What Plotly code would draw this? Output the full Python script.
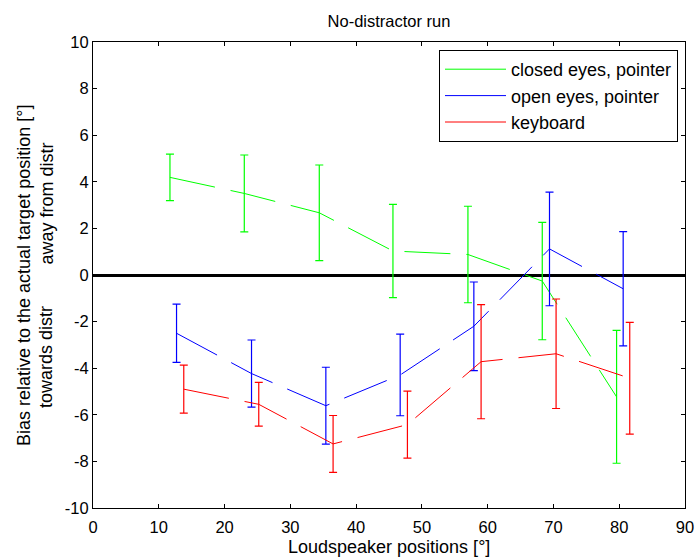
import plotly.graph_objects as go

# Data
closed_x = [11.7, 23.0, 34.4, 45.6, 57.0, 68.3, 79.6]
closed_y = [4.19, 3.50, 2.67, 1.03, 0.88, -0.26, -5.23]
closed_err = [1.00, 1.65, 2.05, 2.00, 2.07, 2.52, 2.85]

open_x = [12.7, 24.1, 35.4, 46.7, 57.9, 69.4, 80.6]
open_y = [-2.50, -4.23, -5.61, -4.29, -2.20, 1.12, -0.59]
open_err = [1.25, 1.44, 1.65, 1.75, 1.90, 2.44, 2.45]

key_x = [13.8, 25.2, 36.5, 47.8, 59.0, 70.4, 81.6]
key_y = [-4.90, -5.55, -7.25, -6.42, -3.72, -3.38, -4.43]
key_err = [1.03, 0.94, 1.22, 1.44, 2.45, 2.35, 2.40]

series = [
    ("closed eyes, pointer", closed_x, closed_y, closed_err, "#00FF00"),
    ("open eyes, pointer", open_x, open_y, open_err, "#0000FF"),
    ("keyboard", key_x, key_y, key_err, "#FF0000"),
]

x_ticks = list(range(0, 91, 10))
x_ticklabels = [str(v) for v in x_ticks]
y_ticks = list(range(-10, 11, 2))
y_ticklabels = [str(v) for v in y_ticks]  # plain hyphen minus as in the reference

font_family = "Liberation Sans, Arial, sans-serif"
fs_tick = 16.5
fs_label = 18
fs_title = 16.5

# plot area in pixels
L, R, T, B = 93, 685, 42, 508
W, H = 698, 558
PW, PH = R - L, B - T


def px_x(p):
    return (p - L) / PW


def px_y(p):
    return 1 - (p - T) / PH


fig = go.Figure()
for name, xs, ys, es, col in series:
    fig.add_trace(go.Scatter(
        x=xs, y=ys, mode="lines", showlegend=False,
        line=dict(color=col, width=1, dash="46px,16px"),
        error_y=dict(type="data", array=es, visible=True, color=col,
                     thickness=1.2, width=4),
    ))
for name, xs, ys, es, col in series:
    fig.add_trace(go.Scatter(
        x=[None], y=[None], mode="lines", name=name,
        line=dict(color=col, width=1),
    ))

axis_common = dict(
    showline=True, linecolor="black", linewidth=1, mirror="ticks",
    ticks="inside", ticklen=4, tickcolor="black", tickwidth=1,
    showgrid=False, automargin=False,
    tickfont=dict(family=font_family, size=fs_tick, color="black"),
)

fig.update_layout(
    width=W, height=H,
    margin=dict(l=L, r=W - R, t=T, b=H - B),
    paper_bgcolor="white", plot_bgcolor="white",
    font=dict(family=font_family, size=fs_label, color="black"),
    title=dict(text="No-distractor run", x=0.5, xref="paper", xanchor="center",
               y=1 - 21 / H, yanchor="middle", font=dict(size=fs_title)),
    xaxis=dict(range=[0, 90], tickvals=x_ticks, ticktext=x_ticklabels,
               zeroline=False, ticklabelstandoff=4, **axis_common),
    yaxis=dict(range=[-10, 10], tickvals=y_ticks, ticktext=y_ticklabels,
               zeroline=True, zerolinecolor="black", zerolinewidth=2.5,
               **axis_common),
    legend=dict(x=px_x(439), y=px_y(50), xanchor="left", yanchor="top",
                bordercolor="black", borderwidth=1, bgcolor="white",
                font=dict(size=fs_label), itemwidth=61, tracegroupgap=0),
    showlegend=True,
)

fig.add_annotation(text="Loudspeaker positions [°]", xref="paper", yref="paper",
                   x=0.5, y=px_y(547), xanchor="center", yanchor="middle",
                   showarrow=False, font=dict(size=fs_label))
fig.add_annotation(text="Bias relative to the actual target position [°]",
                   xref="paper", yref="paper", x=px_x(24), y=px_y(276),
                   xanchor="center", yanchor="middle", textangle=-90,
                   showarrow=False, font=dict(size=fs_label))
fig.add_annotation(text="towards distr", xref="paper", yref="paper",
                   x=px_x(46), y=px_y(357), xanchor="center", yanchor="middle",
                   textangle=-90, showarrow=False, font=dict(size=fs_label))
fig.add_annotation(text="away from distr", xref="paper", yref="paper",
                   x=px_x(46), y=px_y(203.5), xanchor="center", yanchor="middle",
                   textangle=-90, showarrow=False, font=dict(size=fs_label))

fig.write_html("out.html")
